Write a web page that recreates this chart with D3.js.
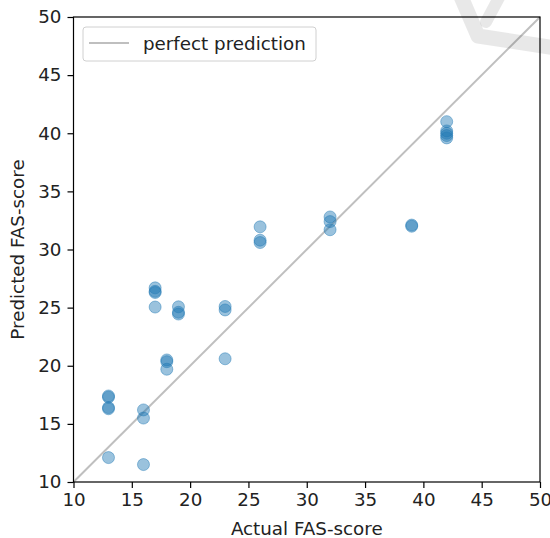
<!DOCTYPE html>
<html><head><meta charset="utf-8">
<script src="https://cdn.jsdelivr.net/npm/d3@7"></script>
<style>body{margin:0;background:#fff}svg{display:block}text{font-family:"DejaVu Sans",sans-serif;fill:#222}</style>
</head><body>
<script>
const actual = [13,13,13,13,13,16,16,16,17,17,17,17,18,18,18,19,19,19,23,23,23,26,26,26,32,32,32,39,39,42,42,42,42,42];
const predicted = [12.1,17.4,17.3,16.4,16.3,16.2,15.5,11.5,26.7,26.4,26.3,25.05,20.5,20.35,19.7,25.07,24.6,24.45,25.1,24.8,20.6,31.95,30.8,30.6,32.8,32.4,31.7,32.1,32.0,41.0,40.2,40.0,39.8,39.6];
const xTicks = [10,15,20,25,30,35,40,45,50];
const yTicks = [10,15,20,25,30,35,40,45,50];
const legendLabel = "perfect prediction";
const xLabel = "Actual FAS-score", yLabel = "Predicted FAS-score";

const W=550,H=538, m={l:73.5,t:17};
const svg=d3.select("body").append("svg").attr("width",W).attr("height",H);
const x=d3.scaleLinear().domain([10,50]).range([m.l,540]);
const y=d3.scaleLinear().domain([10,50]).range([482,m.t]);
const fs=18.3;

// perfect line
svg.append("line").attr("x1",x(10)).attr("y1",y(10)).attr("x2",x(50)).attr("y2",y(50))
  .attr("stroke","#808080").attr("stroke-opacity",0.5).attr("stroke-width",2);

svg.append("g").selectAll("circle").data(actual.map((a,i)=>[a,predicted[i]])).join("circle")
  .attr("cx",d=>x(d[0])).attr("cy",d=>y(d[1])).attr("r",6)
  .attr("fill","#1f77b4").attr("fill-opacity",0.45)
  .attr("stroke","#1f77b4").attr("stroke-opacity",0.45).attr("stroke-width",1);

// frame
svg.append("rect").attr("x",x(10)).attr("y",y(50)).attr("width",x(50)-x(10)).attr("height",y(10)-y(50))
  .attr("fill","none").attr("stroke","#000").attr("stroke-width",1.2);

const xa=svg.append("g").attr("transform",`translate(0,${y(10)})`).call(d3.axisBottom(x).tickValues(xTicks).tickSize(6).tickPadding(5));
const ya=svg.append("g").attr("transform",`translate(${x(10)},0)`).call(d3.axisLeft(y).tickValues(yTicks).tickSize(6).tickPadding(6));
[xa,ya].forEach(a=>{a.select(".domain").remove();a.selectAll("line").attr("stroke","#000").attr("stroke-width",1.2);
  a.selectAll("text").attr("font-size",fs).attr("font-family","DejaVu Sans").attr("fill","#222");});

svg.append("text").attr("x",(x(10)+x(50))/2).attr("y",535).attr("text-anchor","middle").attr("font-size",fs).text(xLabel);
svg.append("text").attr("transform",`translate(23.5,${(y(10)+y(50))/2}) rotate(-90)`).attr("text-anchor","middle").attr("font-size",fs).text(yLabel);

// legend
const lg=svg.append("g");
lg.append("rect").attr("x",83).attr("y",27).attr("width",233).attr("height",34).attr("rx",3)
  .attr("fill","#fff").attr("fill-opacity",0.8).attr("stroke","#d0d0d0");
lg.append("line").attr("x1",89).attr("x2",129).attr("y1",43).attr("y2",43).attr("stroke","#808080").attr("stroke-opacity",0.5).attr("stroke-width",2);
lg.append("text").attr("x",143).attr("y",49.5).attr("font-size",fs).text(legendLabel);

// faint watermark swoosh (top right)
const wm=svg.append("g").attr("fill","none").attr("stroke","#000").attr("stroke-opacity",0.09)
  .attr("stroke-linecap","round").attr("stroke-linejoin","round");
wm.append("path").attr("d",d3.line()([[459,-8],[478,36],[556,48]])).attr("stroke-width",15);
wm.append("path").attr("d",d3.line()([[502,-8],[486,22]])).attr("stroke-width",12);
</script>
</body></html>
